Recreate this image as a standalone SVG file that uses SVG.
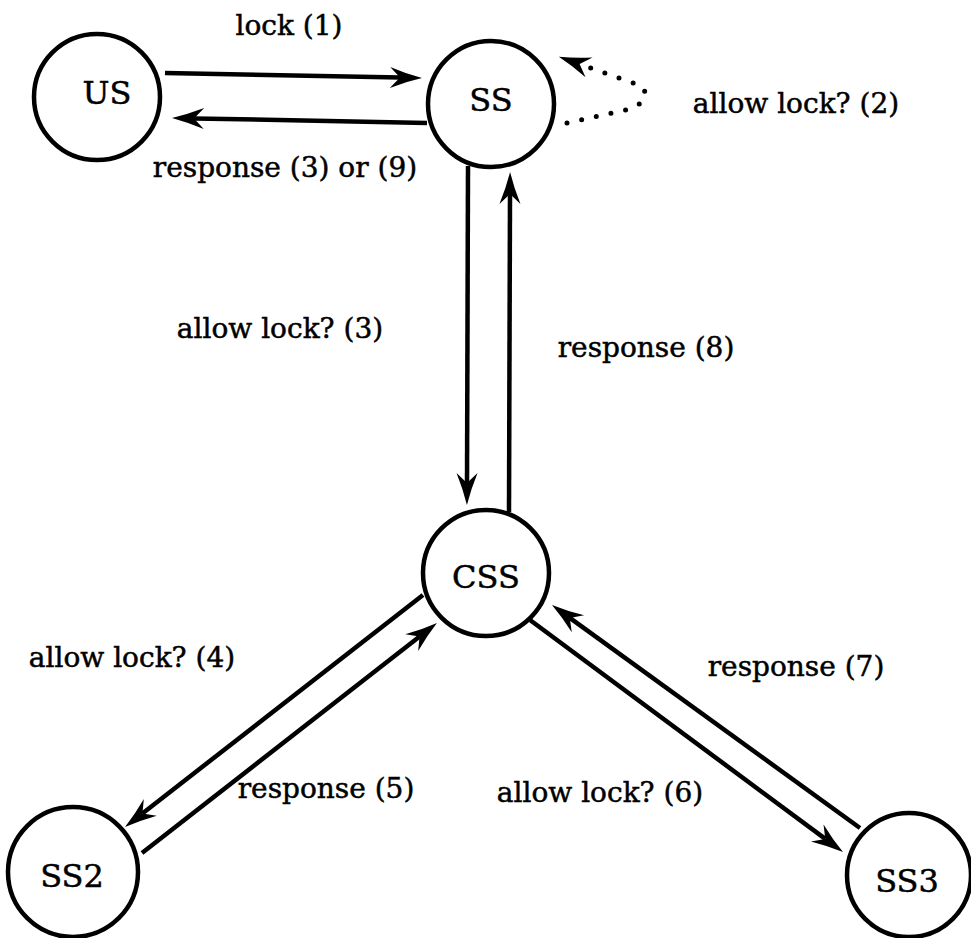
<svg xmlns="http://www.w3.org/2000/svg" width="971" height="938" viewBox="0 0 971 938">
<style>
.node circle{fill:#fff;stroke:#000;stroke-width:4.5}
.node text{font-family:"DejaVu Serif","Liberation Serif",serif;font-size:32px;text-anchor:middle;fill:#000;stroke:#000;stroke-width:0.5}
.lbl{font-family:"DejaVu Serif","Liberation Serif",serif;font-size:28px;text-anchor:middle;fill:#000;stroke:#000;stroke-width:0.5}
.edge{fill:none;stroke:#000;stroke-width:4.5;marker-end:url(#ah)}
.dot{fill:none;stroke:#000;stroke-width:5;stroke-linecap:round;stroke-dasharray:0 15;marker-end:url(#ah)}
</style>
<defs>
<marker id="ah" markerUnits="userSpaceOnUse" viewBox="-12 -12 36 24" markerWidth="36" markerHeight="24" refX="0" refY="0" orient="auto">
<path d="M22,0 Q6,-4 -10,-10.5 L0,0 L-10,10.5 Q6,4 22,0 Z" fill="#000"/>
</marker>
</defs>
<rect width="971" height="938" fill="#fff"/>
<g id="connectors">
<path class="edge" d="M165,73 L400,77.6"/>
<path class="edge" d="M427,123 L194,118.4"/>
<path class="edge" d="M468,166 L467,483"/>
<path class="edge" d="M509,512 L510,194"/>
<path class="edge" d="M423,595 L142.4,813.5"/>
<path class="edge" d="M142,853 L419.6,636.5"/>
<path class="edge" d="M530,620 L825.3,838.9"/>
<path class="edge" d="M860,828 L569.8,617.9"/>
<path class="dot" d="M567,123 L630,109 Q652,100 642,86 L579.6,64"/>
</g>
<g id="US" class="node"><circle cx="97" cy="97" r="63"/><text x="107" y="104">US</text></g>
<g id="SS" class="node"><circle cx="491" cy="104" r="63"/><text x="491" y="111">SS</text></g>
<g id="CSS" class="node"><circle cx="486" cy="573" r="63"/><text x="486" y="588">CSS</text></g>
<g id="SS2" class="node"><circle cx="73" cy="872" r="65"/><text x="72" y="887">SS2</text></g>
<g id="SS3" class="node"><circle cx="909" cy="875" r="62"/><text x="907" y="892">SS3</text></g>
<g id="labels">
<text class="lbl" x="289" y="35">lock (1)</text>
<text class="lbl" x="796" y="113">allow lock? (2)</text>
<text class="lbl" x="285" y="177">response (3) or (9)</text>
<text class="lbl" x="280" y="338">allow lock? (3)</text>
<text class="lbl" x="646" y="357">response (8)</text>
<text class="lbl" x="132" y="667">allow lock? (4)</text>
<text class="lbl" x="796" y="676">response (7)</text>
<text class="lbl" x="326" y="798">response (5)</text>
<text class="lbl" x="600" y="802">allow lock? (6)</text>
</g>
</svg>
